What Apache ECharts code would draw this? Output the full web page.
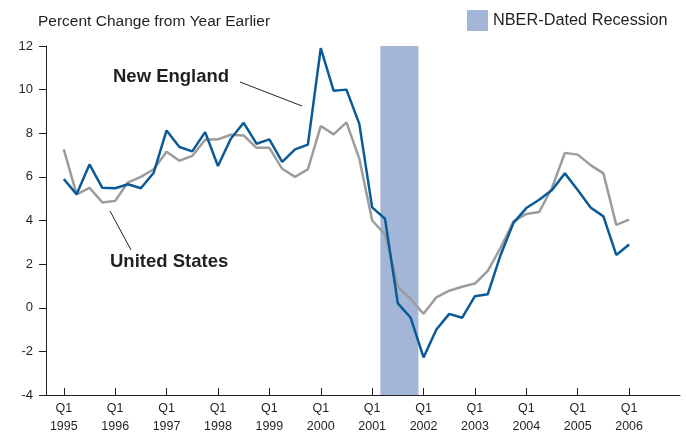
<!DOCTYPE html>
<html>
<head>
<meta charset="utf-8">
<script src="https://cdn.jsdelivr.net/npm/echarts@6/dist/echarts.min.js"></script>
<style>
  html, body { margin: 0; padding: 0; background: #fff; }
  #chart { width: 686px; height: 436px; }
</style>
</head>
<body>
<div id="chart"></div>
<script>
// quarterly series, Q1 1995 .. Q1 2006
var startYear = 1995;
var newEngland = [5.9, 5.2, 6.57, 5.5, 5.48, 5.66, 5.48, 6.19, 8.13, 7.37, 7.17, 8.05, 6.5, 7.75, 8.48, 7.52,
  7.72, 6.69, 7.26, 7.48, 11.9, 9.95, 10.0, 8.43, 4.6, 4.08, 0.2, -0.46, -2.28, -1.0, -0.28, -0.46,
  0.53, 0.62, 2.42, 3.89, 4.57, 4.95, 5.4, 6.16, 5.4, 4.6, 4.19, 2.42, 2.9];
var unitedStates = [7.26, 5.2, 5.5, 4.83, 4.9, 5.75, 6.0, 6.35, 7.15, 6.74, 6.96, 7.7, 7.72, 7.93, 7.9, 7.33,
  7.33, 6.37, 6.0, 6.35, 8.33, 7.95, 8.5, 6.84, 4.0, 3.36, 0.96, 0.4, -0.28, 0.48, 0.78, 0.96,
  1.11, 1.69, 2.75, 3.96, 4.3, 4.39, 5.5, 7.1, 7.02, 6.54, 6.16, 3.8, 4.04];
var yearTicks = [1995, 1996, 1997, 1998, 1999, 2000, 2001, 2002, 2003, 2004, 2005, 2006];
var recession = [2001.16, 2001.90];

function toPoints(arr) {
  return arr.map(function(v, i) { return [startYear + i / 4, v]; });
}

var textColor = '#231f20';
var chart = echarts.init(document.getElementById('chart'));

chart.setOption({
  animation: false,
  textStyle: { fontFamily: 'Liberation Sans' },
  title: {
    text: 'Percent Change from Year Earlier',
    left: 33,
    top: 9,
    textStyle: { fontSize: 15.5, fontWeight: 'normal', color: textColor }
  },
  grid: { left: 46, right: 6, top: 46, bottom: 37 },
  xAxis: {
    type: 'value',
    min: 1994.654,
    max: 2006.99,
    splitLine: { show: false },
    axisLine: { onZero: false, lineStyle: { color: textColor, width: 1 } },
    axisTick: {
      inside: true,
      length: 7,
      customValues: yearTicks,
      lineStyle: { color: textColor }
    },
    axisLabel: {
      customValues: yearTicks,
      margin: 5,
      color: textColor,
      fontSize: 12.5,
      lineHeight: 18,
      formatter: function(v) { return 'Q1\n' + v; }
    }
  },
  yAxis: {
    type: 'value',
    min: -4,
    max: 12,
    interval: 2,
    splitLine: { show: false },
    axisLine: { show: true, lineStyle: { color: textColor, width: 1 } },
    axisTick: { show: true, length: 7, lineStyle: { color: textColor } },
    axisLabel: { margin: 13, color: textColor, fontSize: 13 }
  },
  series: [{
    name: 'United States',
    type: 'line',
    data: toPoints(unitedStates),
    symbol: 'none',
    lineStyle: { color: '#9c9c9c', width: 2.5 },
    markArea: {
      silent: true,
      itemStyle: { color: '#a4b6d7' },
      data: [[{ xAxis: recession[0] }, { xAxis: recession[1] }]]
    }
  }, {
    name: 'New England',
    type: 'line',
    data: toPoints(newEngland),
    symbol: 'none',
    lineStyle: { color: '#0b5a98', width: 2.5 }
  }],
  graphic: [
    { type: 'rect', shape: { x: 467, y: 10, width: 21, height: 21 }, style: { fill: '#a4b6d7' } },
    { type: 'text', x: 493, y: 13, style: { text: 'NBER-Dated Recession', fill: textColor, font: '16.3px "Liberation Sans"' } },
    { type: 'text', x: 113, y: 67, style: { text: 'New England', fill: textColor, font: 'bold 18.5px "Liberation Sans"' } },
    { type: 'line', shape: { x1: 240, y1: 82, x2: 302, y2: 106 }, style: { stroke: textColor, lineWidth: 1 } },
    { type: 'text', x: 110, y: 252, style: { text: 'United States', fill: textColor, font: 'bold 18.5px "Liberation Sans"' } },
    { type: 'line', shape: { x1: 110, y1: 211, x2: 131, y2: 250 }, style: { stroke: textColor, lineWidth: 1 } }
  ]
});
</script>
</body>
</html>
